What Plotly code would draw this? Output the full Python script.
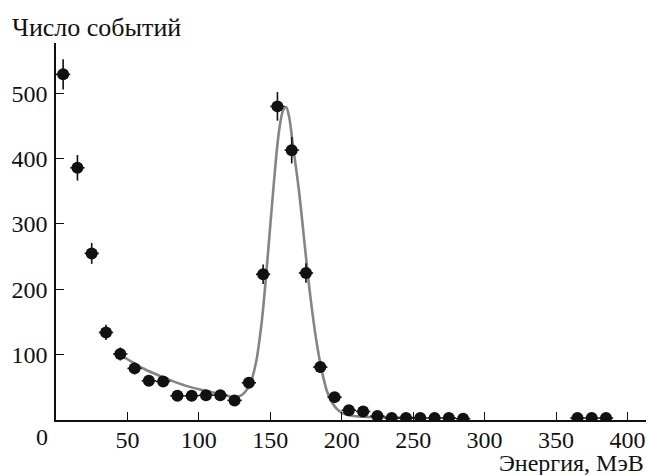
import plotly.graph_objects as go

# Measured data: bin centres (MeV), counts and their errors
energy = [5, 15, 25, 35, 45, 55, 65, 75, 85, 95, 105, 115, 125, 135, 145, 155, 165,
          175, 185, 195, 205, 215, 225, 235, 245, 255, 265, 275, 285, 365, 375, 385]
counts = [529, 386, 255, 134, 101, 79, 60, 59, 37, 37, 38, 38, 30, 57, 223, 480, 413,
          225, 81, 35, 15, 13, 6, 3, 3, 3, 3, 3, 2, 3, 3, 3]
count_err = [23, 19.6, 16, 11.6, 10, 8.9, 7.7, 7.7, 6.1, 6.1, 6.2, 6.2, 5.5, 7.5, 14.9,
             21.9, 20.3, 15, 9, 5.9, 3.9, 3.6, 2.4, 1.7, 1.7, 1.7, 1.7, 1.7, 1.4, 1.7, 1.7, 1.7]
bin_halfwidth = 5

# Fit curve
fit_x = [42, 50, 60, 70, 80, 90, 100, 110, 118, 124, 128, 132, 136, 140, 144, 148, 152,
         156, 159, 161, 163, 166, 170, 174, 178, 182, 186, 190, 194, 198, 202, 208, 215, 230, 250]
fit_y = [104, 93, 80, 70, 61, 53, 47, 42, 38, 35, 36, 42, 56, 88, 150, 245, 350,
         440, 474, 479, 466, 418, 352, 270, 190, 125, 76, 42, 24, 14, 9, 6, 5, 4, 3.5]

x_ticks = [50, 100, 150, 200, 250, 300, 350, 400]
y_ticks = [100, 200, 300, 400, 500]

FONT = "Liberation Serif"

fig = go.Figure()
fig.add_trace(go.Scatter(
    x=fit_x, y=fit_y, mode="lines", line=dict(color="#858585", width=2.6, shape="spline"),
    hoverinfo="skip", showlegend=False))
fig.add_trace(go.Scatter(
    x=energy, y=counts, mode="markers",
    marker=dict(color="#111111", size=12, line=dict(width=0)),
    error_y=dict(type="data", array=count_err, visible=True, color="#111111", thickness=1.6, width=0),
    error_x=dict(type="constant", value=bin_halfwidth, visible=True, color="#111111", thickness=1.6, width=0),
    showlegend=False))

fig.update_layout(
    width=649, height=475,
    margin=dict(l=56, r=3, t=43, b=55),
    paper_bgcolor="white", plot_bgcolor="white",
    font=dict(family=FONT, size=24, color="#111111"),
    xaxis=dict(range=[0, 413], tickvals=x_ticks, ticks="inside", ticklen=8, tickwidth=1.3,
               tickcolor="#111111", showline=True, linecolor="#111111", linewidth=1.5,
               showgrid=False, zeroline=False, tickfont=dict(family=FONT, size=24), ticklabelstandoff=-3),
    yaxis=dict(range=[0, 577], tickvals=y_ticks, ticks="inside", ticklen=8, tickwidth=1.3,
               tickcolor="#111111", showline=True, linecolor="#111111", linewidth=1.5,
               showgrid=False, zeroline=False, tickfont=dict(family=FONT, size=24), ticklabelstandoff=2),
    annotations=[
        dict(text="0", x=0, y=0, xref="x", yref="y", xanchor="center", yanchor="top",
             xshift=-14, yshift=-2, showarrow=False, font=dict(family=FONT, size=24)),
        dict(text="Энергия, МэВ", x=1, y=-0.146, xref="paper", yref="paper",
             xanchor="right", yanchor="bottom", yshift=-3, showarrow=False, font=dict(family=FONT, size=24)),
        dict(text="Число событий", x=-0.078, y=1.0, xref="paper", yref="paper",
             xanchor="left", yanchor="bottom", yshift=-1, showarrow=False, font=dict(family=FONT, size=26)),
    ],
)

fig.write_html("out.html")
